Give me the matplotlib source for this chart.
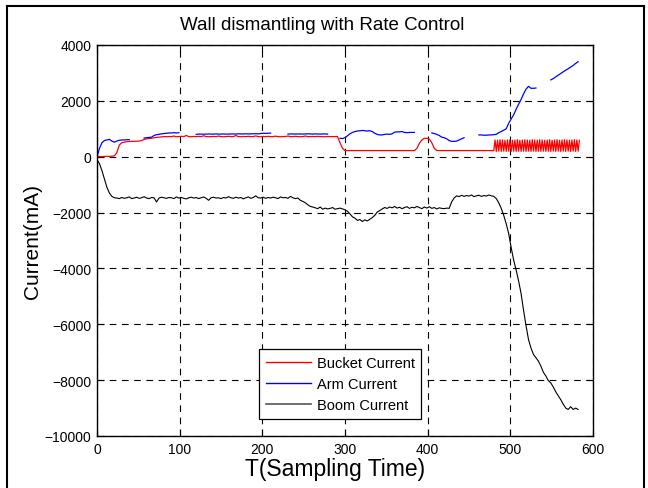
import numpy as np
import matplotlib
matplotlib.use("Agg")
import matplotlib.pyplot as plt
from matplotlib.lines import Line2D

nan = np.nan

# sample index step for the main series
step = 3

bucket_main = [
    0, 10, 5, 10, 15, 10, 20, 30, 150, 420,
    500, 520, 540, 545, 550, 550, 555, 560, 580, 620,
    640, 650, 660, 680, 690, 700, 710, 720, 715, 725,
    720, 740, 715, 720, 730, 720, 760, 720, 715, 725,
    720, 730, 720, 750, 720, 715, 720, 725, 720, 740,
    720, 715, 720, 730, 720, 720, 760, 720, 715, 725,
    720, 730, 720, 720, 745, 720, 715, 725, 720, 730,
    720, 720, 735, 720, 715, 720, 725, 740, 720, 720,
    730, 720, 715, 720, 740, 720, 720, 725, 720, 730,
    720, 720, 715, 725, 720, 720, 720, 720, 500, 300,
    220, 220, 220, 220, 220, 220, 220, 220, 220, 220,
    220, 220, 220, 220, 220, 220, 220, 220, 220, 220,
    220, 220, 220, 220, 220, 220, 220, 220, 220, 300,
    480, 600, 660, 660, 630, 500, 300, 220, 220, 220,
    220, 220, 220, 220, 220, 220, 220, 220, 220, 220,
    220, 220, 220, 220, 220, 220, 220, 220, 220, 220,
]

# oscillating bucket segment (sampled every 1.5)
bucket_osc_start = 480
bucket_osc_step = 1.5
bucket_osc = [
    220, 600, 190, 590, 200, 610, 190, 600, 200, 590,
    190, 600, 200, 610, 190, 590, 200, 600, 190, 610,
    200, 590, 190, 600, 200, 610, 190, 600, 200, 590,
    190, 610, 200, 600, 190, 590, 200, 610, 190, 600,
    200, 590, 190, 600, 200, 610, 190, 590, 200, 600,
    190, 610, 200, 590, 190, 600, 200, 610, 190, 600,
    200, 590, 190, 600, 200, 610, 190, 600, 200, 590,
]

arm = [
    0, 300, 500, 580, 600, 620, 560, 520, 560, 590,
    600, 600, 610, 610, nan, nan, nan, nan, nan, 670,
    680, 690, 700, 760, 790, 800, 820, 830, 840, 850,
    850, 860, 850, 860, nan, nan, nan, nan, nan, nan,
    800, 810, 810, 805, 810, 815, 810, 810, 815, 810,
    810, 815, 810, 810, 815, 815, 810, 820, 815, 815,
    820, 815, 820, 820, 825, 820, 830, 840, 835, 840,
    845, nan, nan, nan, nan, nan, nan, 810, 815, 815,
    810, 815, 815, 810, 815, 820, 815, 810, 815, 815,
    810, 815, 815, 810, nan, nan, nan, nan, 660, 650,
    680, 750, 820, 870, 900, 920, 930, 940, 930, 920,
    930, 900, 840, 800, 780, 780, 800, 810, 800, 820,
    880, 890, 890, 900, 870, 860, 870, 870, 870, nan,
    nan, nan, nan, nan, nan, 850, 830, 800, 760, 700,
    680, 640, 580, 550, 550, 560, 600, 640, 680, nan,
    nan, nan, nan, nan, 780, 780, 770, 770, 780, 780,
    790, 800, 860, 900, 950, 1000, 1200, 1350, 1500, 1700,
    1880, 2050, 2250, 2420, 2520, 2450, 2450, 2460, nan, nan,
    nan, nan, nan, 2750, 2800, 2860, 2920, 2980, 3040, 3100,
    3150, 3210, 3270, 3340, 3400,
]

boom = [
    -100, -250, -500, -800, -1100, -1300, -1420, -1470, -1480, -1500,
    -1460, -1490, -1470, -1440, -1500, -1480, -1450, -1490, -1470, -1430,
    -1480, -1500, -1460, -1470, -1620, -1480, -1450, -1470, -1490, -1460,
    -1470, -1500, -1440, -1480, -1460, -1490, -1510, -1470, -1450, -1480,
    -1460, -1500, -1470, -1440, -1490, -1560, -1470, -1450, -1480, -1470,
    -1500, -1460, -1480, -1430, -1470, -1490, -1450, -1480, -1460, -1510,
    -1470, -1440, -1490, -1460, -1400, -1470, -1480, -1450, -1490, -1460,
    -1480, -1450, -1470, -1500, -1440, -1470, -1460, -1490, -1420, -1470,
    -1500, -1480, -1560, -1600, -1650, -1720, -1780, -1800, -1830, -1860,
    -1800, -1880, -1840, -1870, -1850, -1820, -1880, -1860, -1840, -1870,
    -1900, -1950, -2050, -2150, -2200, -2280, -2250, -2320, -2260, -2300,
    -2240, -2180, -2100, -1980, -1930, -1870, -1820, -1850, -1800, -1830,
    -1780, -1840, -1810, -1860, -1820, -1790, -1850, -1810, -1830, -1780,
    -1820, -1860, -1800, -1840, -1790, -1850, -1820, -1870, -1830, -1850,
    -1860, -1840, -1850, -1620, -1480, -1400, -1430, -1380, -1420, -1390,
    -1410, -1370, -1430, -1400, -1380, -1420, -1390, -1410, -1370, -1400,
    -1420, -1500, -1650, -1850, -2100, -2400, -2750, -3250, -3700, -4050,
    -4450, -4900, -5500, -6050, -6550, -6850, -7080, -7200, -7320, -7500,
    -7720, -7850, -8020, -8100, -8250, -8420, -8560, -8700, -8860, -9000,
    -9050, -8950, -9050, -9000, -9050,
]

title = "Wall dismantling with Rate Control"
xlabel = "T(Sampling Time)"
ylabel = "Current(mA)"
labels = ["Bucket Current", "Arm Current", "Boom Current"]
xticks = [0, 100, 200, 300, 400, 500, 600]
yticks = [-10000, -8000, -6000, -4000, -2000, 0, 2000, 4000]

plt.rcParams['font.family'] = ['Liberation Sans', 'DejaVu Sans']

fig = plt.figure(figsize=(6.48, 4.89), dpi=100)
ax = fig.add_axes([97/648, 1 - 437/489, 496/648, 391/489])

t_main = np.arange(len(bucket_main)) * step
t_osc = bucket_osc_start + np.arange(len(bucket_osc)) * bucket_osc_step
t_bucket = np.concatenate([t_main, t_osc])
y_bucket = np.concatenate([bucket_main, bucket_osc])
t_arm = np.arange(len(arm)) * step
t_boom = np.arange(len(boom)) * step

ax.plot(t_bucket, y_bucket, color='red', lw=0.9)
ax.plot(t_arm, arm, color='blue', lw=0.9)
ax.plot(t_boom, boom, color='black', lw=0.8)

ax.set_xlim(0, 600)
ax.set_ylim(-10000, 4000)
ax.set_xticks(xticks)
ax.set_yticks(yticks)
ax.tick_params(direction='in', top=True, right=True, length=5, width=0.8,
               labelsize=10, colors='black', pad=4)
ax.grid(True, color='black', linestyle=(0, (6, 5)), linewidth=0.8)
for s in ax.spines.values():
    s.set_linewidth(1.0)

# title and labels (positions in axes fraction)
ax.text((322 - 97) / 496, 1 + (46 - 25) / 391, title, fontsize=13.5,
        ha='center', va='center', transform=ax.transAxes)
ax.text((335 - 97) / 496, -(470 - 437) / 391, xlabel, fontsize=16.5,
        ha='center', va='center', transform=ax.transAxes)
ax.set_ylabel(ylabel, fontsize=15, labelpad=2)

handles = [Line2D([], [], color='red', lw=1),
           Line2D([], [], color='blue', lw=1),
           Line2D([], [], color='#555555', lw=1.2)]
leg = ax.legend(handles, labels, loc='lower left',
                bbox_to_anchor=((259-97)/496, (437-420)/391), fontsize=10.5,
                frameon=True, fancybox=False, edgecolor='black',
                handlelength=3.1, borderpad=0.45, labelspacing=0.5,
                handletextpad=0.4, borderaxespad=0)
leg.get_frame().set_linewidth(0.9)
leg.get_frame().set_alpha(1)

# outer figure border
fig.add_artist(Line2D([7/648, 7/648], [0, 1 - 7/489], transform=fig.transFigure, color='black', lw=1.5))
fig.add_artist(Line2D([7/648, 644/648], [1 - 7/489, 1 - 7/489], transform=fig.transFigure, color='black', lw=1.5))
fig.add_artist(Line2D([644/648, 644/648], [0, 1 - 7/489], transform=fig.transFigure, color='black', lw=1.5))

fig.savefig("out.png", dpi=100)
